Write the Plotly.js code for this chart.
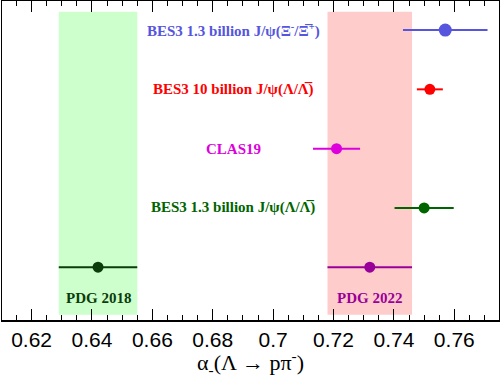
<!DOCTYPE html>
<html>
<head>
<meta charset="utf-8">
<script src="https://cdn.plot.ly/plotly-3.0.1.min.js"></script>
<style>
  html, body {margin: 0; padding: 0; background: #fff;}
  #chart {width: 500px; height: 378px;}
</style>
</head>
<body>
<div id="chart"></div>
<script>
// Measurements of alpha_- (central value, total uncertainty), top to bottom
const LABELS = [
  'BES3 1.3 billion J/ψ(Ξ<sup>-</sup>/Ξ\u0305<sup>+</sup>)',
  'BES3 10 billion J/ψ(Λ/Λ\u0305)',
  'CLAS19',
  'BES3 1.3 billion J/ψ(Λ/Λ\u0305)'
];
const VALUES = [0.757, 0.7519, 0.721, 0.750];
const ERRORS = [0.014, 0.0043, 0.0078, 0.0098];
const ROWS = [5, 4, 3, 2];
const COLORS = ['#5555dd', '#ff0000', '#dd00dd', '#006400'];
const MARKER_SIZES = [13, 11, 11, 11];

// PDG averages, drawn as bands
const PDG_LABELS = ['PDG 2018', 'PDG 2022'];
const PDG_VALUES = [0.642, 0.732];
const PDG_ERRORS = [0.013, 0.014];
const PDG_ROW = 1;
const PDG_COLORS = ['#0b3d0b', '#990099'];
const PDG_BAND_COLORS = ['#ccffcc', '#ffcccc'];

const BAND_Y = [0.2, 5.31];
const LABEL_X = 0.6868;
const PDG_LABEL_Y = 0.48;

const LABEL_FONT = {family: 'Liberation Serif', size: 15, weight: 'bold'};

let traces = [];
let annotations = [];
let shapes = [];

for (let i = 0; i < VALUES.length; i++) {
  traces.push({
    x: [VALUES[i]],
    y: [ROWS[i]],
    mode: 'markers',
    marker: {color: COLORS[i], size: MARKER_SIZES[i]},
    error_x: {type: 'data', array: [ERRORS[i]], color: COLORS[i], thickness: 2, width: 0},
    showlegend: false
  });
  annotations.push({
    x: LABEL_X, y: ROWS[i], xref: 'x', yref: 'y',
    text: LABELS[i], showarrow: false,
    font: Object.assign({}, LABEL_FONT, {color: COLORS[i]})
  });
}

for (let i = 0; i < PDG_VALUES.length; i++) {
  shapes.push({
    type: 'rect', layer: 'below', xref: 'x', yref: 'y',
    x0: PDG_VALUES[i] - PDG_ERRORS[i], x1: PDG_VALUES[i] + PDG_ERRORS[i],
    y0: BAND_Y[0], y1: BAND_Y[1],
    fillcolor: PDG_BAND_COLORS[i], line: {width: 0}
  });
  traces.push({
    x: [PDG_VALUES[i]],
    y: [PDG_ROW],
    mode: 'markers',
    marker: {color: PDG_COLORS[i], size: 11},
    error_x: {type: 'data', array: [PDG_ERRORS[i]], color: PDG_COLORS[i], thickness: 2, width: 0},
    showlegend: false
  });
  annotations.push({
    x: PDG_VALUES[i], y: PDG_LABEL_Y, xref: 'x', yref: 'y',
    text: PDG_LABELS[i], showarrow: false,
    font: Object.assign({}, LABEL_FONT, {color: PDG_COLORS[i]})
  });
}

const LAYOUT = {
  width: 500,
  height: 378,
  margin: {l: 2, r: 1, t: 1, b: 58},
  paper_bgcolor: '#ffffff',
  plot_bgcolor: '#ffffff',
  showlegend: false,
  xaxis: {
    range: [0.6102, 0.7748],
    dtick: 0.02,
    tick0: 0.62,
    ticks: 'inside',
    ticklen: 11,
    tickwidth: 1,
    tickcolor: '#000',
    minor: {dtick: 0.005, ticks: 'inside', ticklen: 5, tickcolor: '#000', showgrid: false},
    showgrid: false,
    zeroline: false,
    showline: true,
    linecolor: '#000',
    linewidth: 1.5,
    mirror: 'allticks',
    ticklabelstandoff: 0,
    tickfont: {family: 'Liberation Sans', size: 21, color: '#000'},
    title: {
      text: 'α<sub>-</sub>(Λ → pπ<sup>-</sup>)',
      font: {family: 'Liberation Serif', size: 22, color: '#000'},
      standoff: 0
    }
  },
  yaxis: {
    range: [0.11, 5.49],
    showticklabels: false,
    ticks: '',
    showgrid: false,
    zeroline: false,
    showline: true,
    linecolor: '#000',
    linewidth: 1.5,
    mirror: true
  },
  shapes: shapes,
  annotations: annotations
};

Plotly.newPlot('chart', traces, LAYOUT, {staticPlot: true});
</script>
</body>
</html>
